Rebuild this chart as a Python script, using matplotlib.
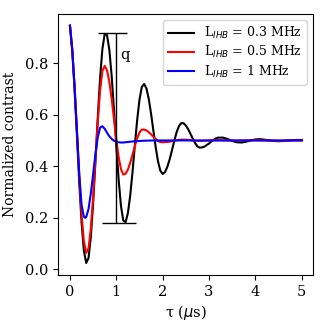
import matplotlib
matplotlib.use("Agg")
import matplotlib.pyplot as plt
import numpy as np

plt.rcParams['font.family'] = ['DejaVu Serif']
plt.rcParams['font.size'] = 10.5

# Black: L_IHB = 0.3 MHz
t_black = [0.00, 0.05, 0.10, 0.15, 0.20, 0.25, 0.30, 0.35, 0.40, 0.45, 0.50, 0.55, 0.60, 0.65, 0.70, 0.75,
           0.80, 0.85, 0.90, 0.95, 1.00, 1.05, 1.10, 1.15, 1.20, 1.25, 1.30, 1.35, 1.40, 1.45, 1.50, 1.55,
           1.60, 1.65, 1.70, 1.75, 1.80, 1.85, 1.90, 1.95, 2.00, 2.05, 2.10, 2.15, 2.20, 2.25, 2.30, 2.35,
           2.40, 2.45, 2.50, 2.55, 2.60, 2.65, 2.70, 2.75, 2.80, 2.85, 2.90, 2.95, 3.00, 3.05, 3.10, 3.15,
           3.20, 3.30, 3.40, 3.50, 3.60, 3.70, 3.80, 3.90, 4.00, 4.10, 4.20, 4.30, 4.40, 4.50, 4.60, 4.70,
           4.80, 4.90, 5.00]
v_black = [0.945, 0.847, 0.697, 0.520, 0.339, 0.183, 0.073, 0.025, 0.044, 0.125, 0.257, 0.419, 0.589, 0.742, 0.855, 0.913,
           0.908, 0.851, 0.749, 0.619, 0.479, 0.349, 0.247, 0.190, 0.183, 0.218, 0.286, 0.378, 0.481, 0.579, 0.658, 0.707,
           0.719, 0.702, 0.661, 0.604, 0.538, 0.474, 0.419, 0.383, 0.370, 0.377, 0.397, 0.426, 0.461, 0.498, 0.531, 0.555,
           0.567, 0.567, 0.558, 0.544, 0.526, 0.507, 0.490, 0.477, 0.472, 0.473, 0.476, 0.482, 0.488, 0.496, 0.502, 0.508,
           0.511, 0.511, 0.506, 0.498, 0.493, 0.492, 0.495, 0.500, 0.504, 0.505, 0.503, 0.500, 0.498, 0.497, 0.498, 0.500,
           0.501, 0.502, 0.502]

# Red: L_IHB = 0.5 MHz
t_red = [0.00, 0.05, 0.10, 0.15, 0.20, 0.25, 0.30, 0.35, 0.40, 0.45, 0.50, 0.55, 0.60, 0.65, 0.70, 0.75,
         0.80, 0.85, 0.90, 0.95, 1.00, 1.05, 1.10, 1.15, 1.20, 1.25, 1.30, 1.35, 1.40, 1.45, 1.50, 1.55,
         1.60, 1.65, 1.70, 1.75, 1.80, 1.85, 1.90, 1.95, 2.00, 2.10, 2.20, 2.30, 2.40, 2.50, 2.60, 2.70,
         2.80, 2.90, 3.00, 3.20, 3.40, 3.60, 3.80, 4.00, 4.20, 4.40, 4.60, 4.80, 5.00]
v_red = [0.945, 0.851, 0.707, 0.537, 0.365, 0.215, 0.110, 0.064, 0.082, 0.158, 0.280, 0.426, 0.572, 0.694, 0.770, 0.789,
         0.772, 0.727, 0.661, 0.583, 0.504, 0.436, 0.389, 0.368, 0.371, 0.387, 0.413, 0.445, 0.478, 0.508, 0.531, 0.542,
         0.542, 0.539, 0.532, 0.524, 0.514, 0.506, 0.498, 0.494, 0.493, 0.494, 0.497, 0.501, 0.503, 0.503, 0.501, 0.499,
         0.498, 0.499, 0.500, 0.501, 0.500, 0.499, 0.500, 0.501, 0.500, 0.499, 0.499, 0.500, 0.500]

# Blue: L_IHB = 1 MHz
t_blue = [0.00, 0.05, 0.10, 0.15, 0.20, 0.25, 0.30, 0.33, 0.35, 0.40, 0.45, 0.50, 0.55, 0.60, 0.65, 0.70,
          0.75, 0.80, 0.85, 0.90, 0.95, 1.00, 1.05, 1.10, 1.15, 1.20, 1.30, 1.40, 1.50, 1.60, 1.80, 2.00,
          2.50, 3.00, 3.50, 4.00, 4.50, 5.00]
v_blue = [0.945, 0.851, 0.707, 0.540, 0.370, 0.250, 0.205, 0.200, 0.203, 0.234, 0.294, 0.370, 0.448, 0.512, 0.550, 0.555,
          0.545, 0.530, 0.516, 0.506, 0.499, 0.495, 0.493, 0.492, 0.492, 0.493, 0.495, 0.497, 0.498, 0.499, 0.500, 0.500,
          0.500, 0.500, 0.500, 0.500, 0.500, 0.500]

labels = [r'L$_{IHB}$ = 0.3 MHz', r'L$_{IHB}$ = 0.5 MHz', r'L$_{IHB}$ = 1 MHz']

# q annotation values
q_x = 1.0
q_top = 0.918
q_bottom = 0.18

fig = plt.figure(figsize=(3.28, 3.28), dpi=100)
ax = fig.add_axes([0.178, 0.162, 0.777, 0.796])

ax.plot(t_black, v_black, color='black', lw=1.5, label=labels[0])
ax.plot(t_red, v_red, color='red', lw=1.5, label=labels[1])
ax.plot(t_blue, v_blue, color='blue', lw=1.5, label=labels[2])

ax.vlines(q_x, q_bottom, q_top, color='black', lw=1)
ax.hlines(q_top, 0.6, 1.23, color='black', lw=1)
ax.hlines(q_bottom, 0.7, 1.43, color='black', lw=1)
ax.text(1.08, 0.83, 'q', fontsize=10.5, va='center', ha='left')

ax.set_xlabel('τ ($\\mu$s)', fontsize=10.5, labelpad=3)
ax.set_ylabel('Normalized contrast', fontsize=10, labelpad=6)
ax.set_xticks([0, 1, 2, 3, 4, 5])
ax.set_yticks([0.0, 0.2, 0.4, 0.6, 0.8])
ax.legend(loc='upper right', fontsize=9, handlelength=2.1, labelspacing=0.25)

fig.savefig('out.png', dpi=100)
